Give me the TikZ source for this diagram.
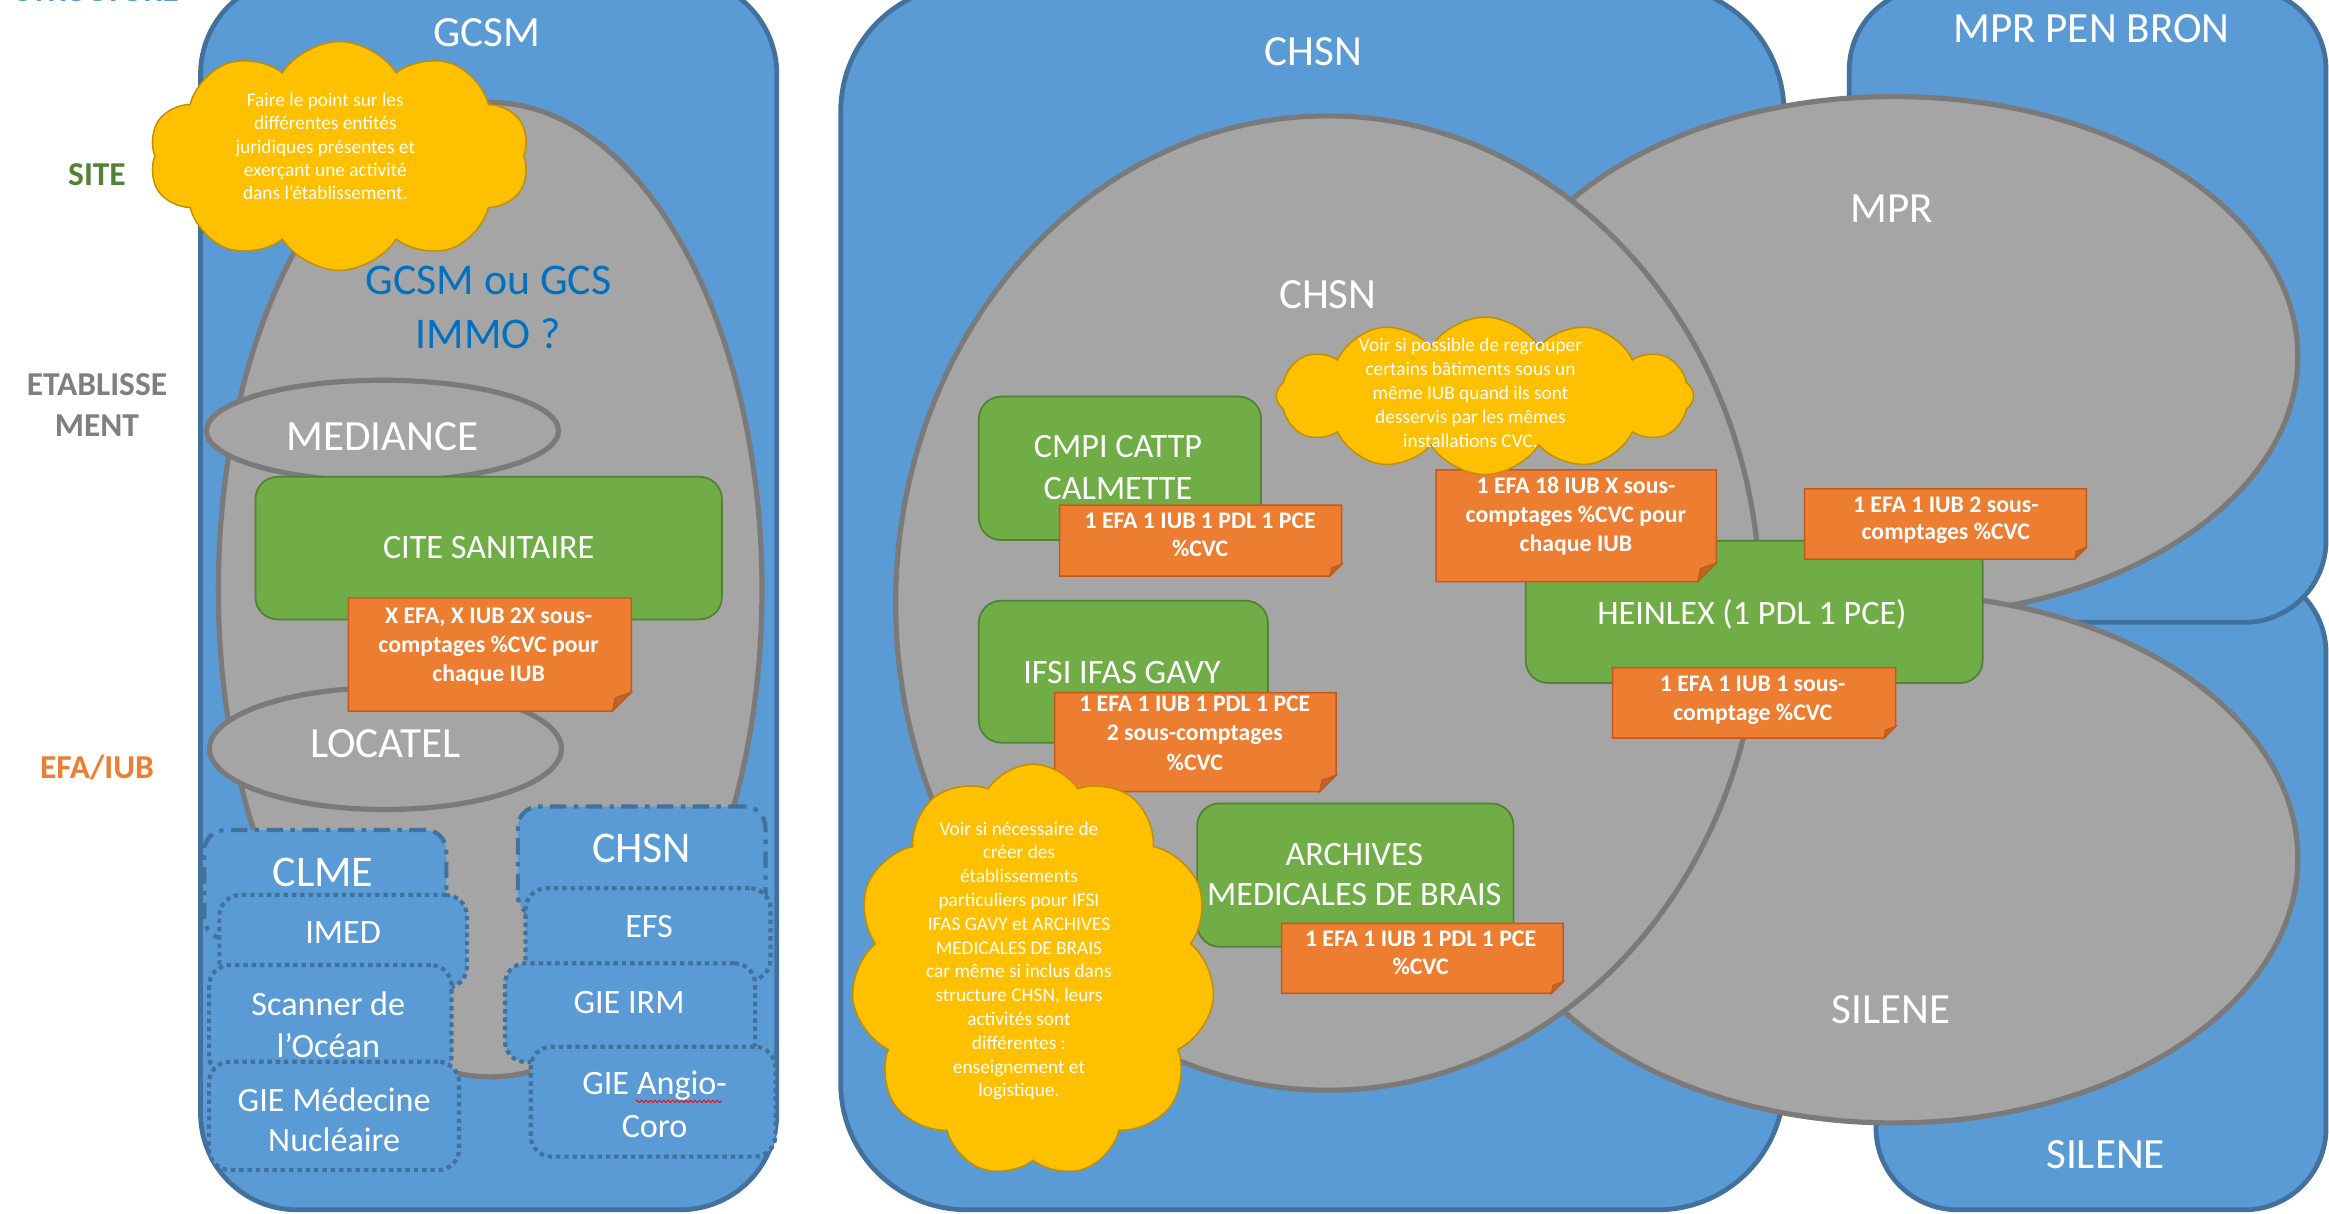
\documentclass[tikz,border=0pt]{standalone}
\usepackage{fontspec}
\setmainfont{Carlito}
\usetikzlibrary{shapes.geometric,shapes.symbols,decorations.pathmorphing}
\definecolor{blueF}{HTML}{5B9BD5}
\definecolor{blueD}{HTML}{41719C}
\definecolor{grayF}{HTML}{A5A5A5}
\definecolor{grayD}{HTML}{7A7A7A}
\definecolor{greenF}{HTML}{70AD47}
\definecolor{greenD}{HTML}{548235}
\definecolor{orangeF}{HTML}{ED7D31}
\definecolor{orangeD}{HTML}{C05A1A}
\definecolor{foldC}{HTML}{BE6428}
\definecolor{yellowF}{HTML}{FFC000}
\definecolor{yellowD}{HTML}{BF9000}
\definecolor{txtblue}{HTML}{0070C0}
\definecolor{lblgreen}{HTML}{548235}
\definecolor{lblgray}{HTML}{7F7F7F}
\newcommand\ml[1]{\parbox[t]{420pt}{\centering #1}}
\newcommand\orangenote[5]{%
  \pgfmathsetmacro\fd{(#5-#3)/6}%
  \path[fill=orangeF, draw=orangeD, line width=1pt] (#2,#3) -- (#4,#3) -- (#4,#5-\fd) -- (#4-\fd,#5) -- (#2,#5) -- cycle;
  \path[fill=foldC, draw=orangeD, line width=0.8pt] (#4-\fd,#5) -- (#4,#5-\fd) -- (#4-0.85*\fd,#5-0.7*\fd) -- cycle;
  \coordinate (#1) at ({(#2+#4)/2},{(#3+#5)/2});
}
\tikzset{
  bluebox/.style={rectangle, fill=blueF, draw=blueD, line width=3.2pt, inner sep=0},
  grayell/.style={ellipse, fill=grayF, draw=grayD, line width=3.5pt, inner sep=0},
  greenbox/.style={rectangle, rounded corners=15pt, fill=greenF, draw=greenD, line width=1.2pt, inner sep=0},
  dashbox/.style={rectangle, fill=blueF, draw=blueD, line width=2.8pt, rounded corners=14pt, inner sep=0, dash pattern=on 11pt off 5pt on 3pt off 5pt},
  dotbox/.style={rectangle, fill=blueF, draw=blueD, line width=2.8pt, rounded corners=14pt, inner sep=0, dash pattern=on 3pt off 2.6pt},
  cloudy/.style={cloud, cloud ignores aspect, fill=yellowF, draw=yellowD, line width=1pt, inner sep=0},
  bigtxt/.style={anchor=base, inner sep=0, text=white, font=\fontsize{29}{34}\selectfont},
  midtxt/.style={anchor=base, inner sep=0, text=white, font=\fontsize{23}{28}\selectfont},
  notetxt/.style={anchor=base, inner sep=0, text=white, font=\fontsize{16}{19.6}\selectfont\bfseries},
  cloudtxt/.style={anchor=base, inner sep=0, text=white, font=\fontsize{13}{16}\selectfont},
  sidelbl/.style={anchor=base, inner sep=0, font=\fontsize{22.5}{28}\selectfont\bfseries},
}
\begin{document}
\begin{tikzpicture}[x=1pt, y=-1pt]
\useasboundingbox (0,0) rectangle (1568,817);
\clip (0,0) rectangle (1568,817);
\fill[white] (0,0) rectangle (1568,817);

% ---- left labels
\node[sidelbl, text=blueF] (lstruct) at (65.3,1.2) {STRUCTURE};
\node[sidelbl, text=lblgreen] (lsite) at (65.3,124.6) {SITE};
\node[sidelbl, text=lblgray] (letab) at (65.3,266) {\ml{ETABLISSE\\MENT}};
\node[sidelbl, text=orangeF] (lefa) at (65.3,524) {EFA/IUB};

% ---- GCSM column
\node[bluebox, rounded corners=65pt, minimum width=388pt, minimum height=829.5pt] (gcsmbox) at (329,399.75) {};
\node[grayell, minimum width=366pt, minimum height=656pt] (gcsmell) at (330,397) {};
\node[grayell, minimum width=237pt, minimum height=68pt] (mediance) at (257.5,290) {};
\node[greenbox, minimum width=314pt, minimum height=96pt] (cite) at (329,369) {};
\node[grayell, minimum width=237pt, minimum height=82pt] (locatel) at (259.5,504) {};
\orangenote{n1}{234.5}{402.6}{425}{478.7}
\node[cloudy, cloud puffs=10, cloud puff arc=115, minimum width=256pt, minimum height=154pt] (cloud1) at (228.4,105) {};

\node[bigtxt] (tgcsm) at (328,31.4) {GCSM};
\node[bigtxt, text=txtblue, font=\fontsize{29.5}{35.9}\selectfont] (tgcs) at (328.9,198.6) {\ml{GCSM ou GCS\\IMMO ?}};
\node[bigtxt] (tmed) at (257.5,303) {MEDIANCE};
\node[midtxt] (tcite) at (329,376) {CITE SANITAIRE};
\node[bigtxt] (tloc) at (259.5,510) {LOCATEL};
\node[notetxt, font=\fontsize{16}{19.7}\selectfont\bfseries] (tn1) at (329,419.5) {\ml{X EFA, X IUB 2X sous-\\comptages \%CVC pour\\chaque IUB}};
\node[cloudtxt, font=\fontsize{13}{15.7}\selectfont] (tc1) at (219,71.8) {\ml{Faire le point sur les\\différentes entités\\juridiques présentes et\\exerçant une activité\\dans l’établissement.}};

% ---- CLME / CHSN groups
\node[dashbox, minimum width=163pt, minimum height=73.2pt] (clme) at (219,595.4) {};
\node[dotbox, minimum width=166.6pt, minimum height=62.4pt] (imed) at (231,633.8) {};
\node[dotbox, minimum width=163.2pt, minimum height=75.3pt] (scan) at (222.4,687.35) {};
\node[dotbox, minimum width=168.2pt, minimum height=72.9pt] (giemed) at (224.9,751.25) {};
\node[dashbox, minimum width=166.7pt, minimum height=74pt] (chsns) at (432,580) {};
\node[dotbox, minimum width=164.9pt, minimum height=62pt] (efs) at (436.25,629) {};
\node[dotbox, minimum width=168.4pt, minimum height=66.5pt] (gieirm) at (424.2,681.75) {};
\node[dotbox, minimum width=164.7pt, minimum height=74pt] (angio) at (439.65,741.7) {};
\node[bigtxt, font=\fontsize{29.5}{34}\selectfont] (tclme) at (217.5,597) {CLME};
\node[midtxt] (timed) at (231,635) {IMED};
\node[midtxt, font=\fontsize{23}{28.5}\selectfont] (tscan) at (221,683.5) {\ml{Scanner de\\l’Océan}};
\node[midtxt, font=\fontsize{23}{27}\selectfont] (tgiemed) at (225,748.5) {\ml{GIE Médecine\\Nucléaire}};
\node[bigtxt, font=\fontsize{29.5}{34}\selectfont] (tchsns) at (432,581) {CHSN};
\node[midtxt] (tefs) at (437,631) {EFS};
\node[midtxt] (tgieirm) at (423.5,682) {GIE IRM};
\node[midtxt, font=\fontsize{23}{29}\selectfont] (tangio) at (440.7,737) {\ml{GIE Angio-\\Coro}};
\coordinate (sqa) at (428,741.5);
\coordinate (sqb) at (486,741.5);
\draw[red, line width=0.6pt, decorate, decoration={snake, amplitude=0.8pt, segment length=3pt}] (sqa) -- (sqb);

% ---- right structures
\node[bluebox, rounded corners=85pt, minimum width=635pt, minimum height=824.5pt] (chsnbox) at (883.5,402.25) {};
\node[bluebox, rounded corners=55pt, minimum width=303pt, minimum height=430pt] (silbox) at (1414.5,599.5) {};
\node[bluebox, rounded corners=55pt, minimum width=321pt, minimum height=427pt] (mprbox) at (1405.5,205.5) {};
\node[grayell, minimum width=544pt, minimum height=350pt] (mprell) at (1275,240) {};
\node[grayell, minimum width=544pt, minimum height=356pt] (silell) at (1275,578) {};
\node[grayell, minimum width=582pt, minimum height=656pt] (chsnell) at (894,406) {};

\node[bigtxt] (tchsnbox) at (884.4,43.8) {CHSN};
\node[bigtxt] (tmprbox) at (1408,28.9) {MPR PEN BRON};
\node[bigtxt] (tsilbox) at (1417.6,787) {SILENE};
\node[bigtxt] (tmpr) at (1273.5,149.8) {MPR};
\node[bigtxt] (tsil) at (1273,689) {SILENE};
\node[bigtxt] (tchsn) at (894,208) {CHSN};

% ---- establishments
\node[greenbox, minimum width=190pt, minimum height=96.6pt] (cmpi) at (754,315.3) {};
\node[greenbox, minimum width=194.6pt, minimum height=95.6pt] (ifsi) at (756.3,452.2) {};
\node[greenbox, minimum width=213pt, minimum height=96.5pt] (arch) at (912.5,589.15) {};
\node[greenbox, minimum width=307.6pt, minimum height=95.7pt] (heinlex) at (1181,411.95) {};
\node[midtxt] (tcmpi) at (752.7,308) {\ml{CMPI CATTP\\CALMETTE}};
\node[midtxt] (tifsi) at (755.4,460) {IFSI IFAS GAVY};
\node[midtxt, font=\fontsize{23}{27.4}\selectfont] (tarch) at (911.8,582.4) {\ml{ARCHIVES\\MEDICALES DE BRAIS}};
\node[midtxt] (theinlex) at (1179.5,420.5) {HEINLEX (1 PDL 1 PCE)};

\orangenote{n2}{713.4}{340}{903.3}{387.8}
\orangenote{n3}{710}{466.3}{899.5}{533}
\orangenote{n4}{862.8}{621.6}{1052.3}{668.8}
\orangenote{n5}{966.8}{316.4}{1155.5}{391.6}
\orangenote{n6}{1215}{329.2}{1404.6}{376.5}
\orangenote{n7}{1085.7}{449.4}{1276.2}{497}
\node[notetxt, font=\fontsize{16}{19.2}\selectfont\bfseries] (tn2) at (808,355.6) {\ml{1 EFA 1 IUB 1 PDL 1 PCE\\\%CVC}};
\node[notetxt, font=\fontsize{16}{19.7}\selectfont\bfseries] (tn3) at (804.4,479) {\ml{1 EFA 1 IUB 1 PDL 1 PCE\\2 sous-comptages\\\%CVC}};
\node[notetxt, font=\fontsize{16}{19}\selectfont\bfseries] (tn4) at (956.4,637.4) {\ml{1 EFA 1 IUB 1 PDL 1 PCE\\\%CVC}};
\node[notetxt, font=\fontsize{16}{19.8}\selectfont\bfseries] (tn5) at (1061,332) {\ml{1 EFA 18 IUB X sous-\\comptages \%CVC pour\\chaque IUB}};
\node[notetxt, font=\fontsize{16}{18.5}\selectfont\bfseries] (tn6) at (1310,344.8) {\ml{1 EFA 1 IUB 2 sous-\\comptages \%CVC}};
\node[notetxt, font=\fontsize{16}{19.6}\selectfont\bfseries] (tn7) at (1180,465.4) {\ml{1 EFA 1 IUB 1 sous-\\comptage \%CVC}};

% ---- clouds
\node[cloudy, cloud puffs=12, cloud puff arc=115, minimum width=281pt, minimum height=106pt] (cloud2) at (999.7,266.5) {};
\node[cloudtxt, font=\fontsize{13}{16.2}\selectfont] (tc2) at (990,236.8) {\ml{Voir si possible de regrouper\\certains bâtiments sous un\\même IUB quand ils sont\\desservis par les mêmes\\installations CVC.}};
\node[cloudy, cloud puffs=11, cloud puff arc=115, minimum width=245pt, minimum height=278pt] (cloud3) at (695.5,653.5) {};
\node[cloudtxt, font=\fontsize{13}{16.02}\selectfont] (tc3) at (686,562.2) {\ml{Voir si nécessaire de\\créer des\\établissements\\particuliers pour IFSI\\IFAS GAVY et ARCHIVES\\MEDICALES DE BRAIS\\car même si inclus dans\\structure CHSN, leurs\\activités sont\\différentes :\\enseignement et\\logistique.}};
\end{tikzpicture}
\end{document}
